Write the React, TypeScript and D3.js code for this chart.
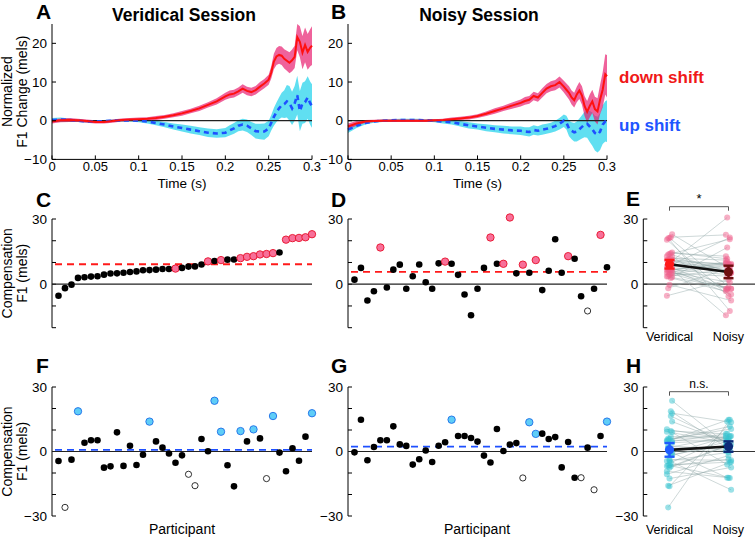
import React from "react";
import * as d3 from "d3";

const FONT = "'Liberation Sans', Arial, Helvetica, sans-serif";

// ---------- Time-course data (A, B) ----------
const time = [0, 0.01, 0.02, 0.03, 0.04, 0.05, 0.06, 0.07, 0.08, 0.09, 0.1, 0.11, 0.12, 0.13, 0.14, 0.15, 0.16, 0.17, 0.18, 0.19, 0.2,
  0.205, 0.21, 0.215, 0.22, 0.225, 0.23, 0.235, 0.24, 0.245, 0.25,
  0.253, 0.256, 0.259, 0.262, 0.265, 0.268, 0.271, 0.274, 0.277, 0.28, 0.283, 0.286, 0.289, 0.292, 0.295, 0.298, 0.3];

const verDownMean = [-0.2, 0.1, 0.2, 0.1, -0.1, -0.3, -0.3, -0.1, 0.2, 0.3, 0.4, 0.5, 0.7, 1.0, 1.4, 1.9, 2.5, 3.2, 4.1, 5.0, 6.3,
  6.8, 7.0, 7.6, 8.3, 7.7, 7.4, 7.9, 8.8, 9.6, 10.6,
  12.5, 15.3, 16.6, 17.0, 16.8, 16.0, 15.5, 15.0, 15.6, 16.5, 21.6, 20.4, 17.6, 19.6, 17.8, 18.9, 19.4];
const verDownErr = [0.5, 0.5, 0.5, 0.4, 0.4, 0.4, 0.4, 0.4, 0.4, 0.4, 0.4, 0.4, 0.5, 0.5, 0.5, 0.6, 0.6, 0.7, 0.7, 0.8, 0.9,
  1.0, 1.0, 1.0, 1.1, 1.1, 1.1, 1.1, 1.2, 1.2, 1.3,
  1.6, 2.0, 2.2, 2.3, 2.4, 2.5, 2.6, 2.7, 2.8, 2.9, 3.4, 4.0, 4.3, 4.5, 4.6, 4.8, 5.0];
const verUpMean = [0.2, 0.3, 0.2, 0.0, -0.2, -0.2, -0.1, 0.0, 0.1, 0.1, 0.0, -0.2, -0.6, -1.0, -1.5, -1.9, -2.3, -2.7, -3.1, -3.3, -3.1,
  -2.5, -2.0, -1.3, -1.0, -1.3, -2.0, -2.7, -2.8, -2.8, -2.0,
  -0.5, 1.0, 2.2, 3.2, 4.0, 4.3, 5.0, 4.5, 3.2, 4.5, 6.6, 2.5, 4.5, 4.8, 6.0, 4.5, 3.8];
const verUpErr = [0.5, 0.5, 0.4, 0.3, 0.3, 0.3, 0.3, 0.3, 0.3, 0.3, 0.4, 0.5, 0.6, 0.7, 0.8, 0.9, 1.0, 1.0, 1.1, 1.1, 1.2,
  1.3, 1.4, 1.4, 1.5, 1.6, 1.7, 1.9, 2.0, 2.1, 2.0,
  2.0, 2.3, 2.5, 2.8, 3.2, 3.6, 4.2, 4.5, 4.3, 4.5, 5.0, 5.2, 5.3, 5.4, 5.5, 5.6, 5.6];

const noiDownMean = [-1.5, -0.7, -0.2, -0.05, 0.0, 0.0, 0.0, 0.0, 0.0, 0.0, 0.1, 0.2, 0.4, 0.6, 0.8, 1.2, 1.8, 2.5, 3.2, 3.9, 4.6,
  5.1, 5.4, 6.4, 6.0, 7.2, 8.3, 8.9, 9.2, 10.0, 8.8,
  8.0, 7.2, 6.0, 5.3, 6.8, 7.8, 6.5, 3.8, 2.3, 3.8, 5.0, 3.0, 2.4, 5.5, 8.0, 12.0, 11.5];
const noiDownErr = [0.8, 0.6, 0.4, 0.3, 0.3, 0.3, 0.3, 0.3, 0.3, 0.3, 0.3, 0.3, 0.4, 0.4, 0.5, 0.5, 0.6, 0.7, 0.7, 0.8, 0.9,
  1.0, 1.0, 1.1, 1.1, 1.2, 1.2, 1.3, 1.3, 1.4, 1.5,
  1.6, 1.7, 1.8, 1.9, 2.0, 2.2, 2.4, 2.6, 2.8, 3.0, 3.0, 3.2, 3.4, 3.8, 4.5, 5.2, 5.5];
const noiUpMean = [-2.3, -1.3, -0.6, -0.2, 0.0, 0.1, 0.2, 0.2, 0.2, 0.1, 0.0, -0.2, -0.4, -0.8, -1.2, -1.5, -1.8, -2.1, -2.3, -2.5, -2.6,
  -2.8, -2.9, -2.4, -2.6, -2.3, -2.1, -1.8, -1.4, -0.8, 0.0,
  -0.5, -2.0, -2.6, -3.0, -2.8, -2.2, -1.6, -1.0, -0.8, -1.5, -2.2, -3.2, -3.6, -2.8, -1.0, -0.2, -0.1];
const noiUpErr = [0.9, 0.6, 0.4, 0.3, 0.3, 0.3, 0.3, 0.3, 0.3, 0.3, 0.4, 0.5, 0.6, 0.7, 0.8, 0.8, 0.9, 0.9, 1.0, 1.0, 1.1,
  1.1, 1.2, 1.2, 1.2, 1.3, 1.3, 1.3, 1.4, 1.5, 1.6,
  1.8, 2.0, 2.2, 2.4, 2.6, 2.8, 3.0, 3.3, 3.6, 4.0, 4.3, 4.5, 4.6, 4.8, 5.0, 5.2, 5.4];

const timeTicks = [0, 0.05, 0.1, 0.15, 0.2, 0.25, 0.3];
const normTicks = [-10, 0, 10, 20];

// ---------- Per-participant compensation (C, D, F, G) ----------
const compVerDown = [-5.3, -1.8, -0.2, 2.9, 3.2, 3.5, 3.7, 4.4, 4.9, 5.0, 5.3, 5.6, 5.9, 6.4, 6.5, 6.7, 7.0, 7.0, 7.2, 7.5,
  8.1, 8.2, 9.1, 10.5, 10.7, 11.1, 11.3, 11.4, 12.0, 12.6, 12.9, 13.7, 13.9, 14.3, 14.6, 20.5, 21.2, 21.3, 21.6, 23.0];
const compNoiDown = [2.1, 7.5, -7.5, -3.2, 16.9, -1.5, 6.7, 9.0, -2.1, 3.7, 9.1, 0.9, -2.1, 9.6, 10.4, 9.4, 4.3, -4.7, -14.3, -2.1,
  7.5, 21.5, 9.4, 9.4, 30.7, 5.0, 9.0, 5.3, 11.1, -2.7, 6.2, 20.7, 5.3, 12.9, 11.7, -5.5, -12.3, -2.1, 22.7, 7.8];
const compVerUp = [-4.4, -26.0, -3.8, 18.7, 4.1, 5.2, 5.2, -7.5, -6.9, 8.9, -6.7, 2.7, -6.3, -1.5, 13.9, 4.7, 1.8, -0.9, -5.2, -1.8,
  -10.6, -15.9, 5.8, 0.1, 23.6, 9.2, -6.4, -16.2, 9.5, 4.7, 10.3, 6.1, -12.6, 16.5, -0.5, -9.2, 1.5, -4.3, 6.9, 17.8];
const compNoiUp = [-0.4, 14.8, -4.1, 2.1, 5.2, 5.2, 11.7, 3.3, 2.6, -6.1, -3.6, 0.5, -4.9, 2.7, 4.3, 14.8, 7.2, 7.2, 6.3, 4.6,
  -1.9, -5.1, 10.5, 0.2, 3.2, 3.9, -12.3, 13.6, 8.2, 8.3, 5.8, 6.7, -7.4, 4.4, -12.2, -12.2, 1.8, -17.8, 7.2, 13.9];

// b = ordinary, s = individually significant, o = excluded (open)
const statusVerDown = "bbbbbbbbbbbbbbbbbbsbbbbsbsbbssssssbsssss";
const statusNoiDown = "bbbbsbbbbbbbbbsbbbbbbsbssbsbsbbbbsbbobsb";
const statusVerUp = "bobsbbbbbbbbbbsbbbbboobbssbbsbsbosbbbbbs";
const statusNoiUp = "bbbbbbbbbbbbbbbsbbbbbbbbbbossbbbbbbobobs";

const conditions = ["Veridical", "Noisy"];

// ---------- Components ----------
type TPProps = {
  x0: number; x1: number;
  down: number[]; downErr: number[]; up: number[]; upErr: number[];
};

const TY0 = 159.4, TY1 = 24;

function TimePanel({ x0, x1, down, downErr, up, upErr }: TPProps) {
  const x = d3.scaleLinear().domain([0, 0.3]).range([x0, x1]);
  const y = d3.scaleLinear().domain([-10, 25]).range([TY0, TY1]);
  const band = (m: number[], e: number[]) =>
    d3.area<number>()
      .x((_, i) => x(time[i]))
      .y0((_, i) => y(m[i] - e[i]))
      .y1((_, i) => y(m[i] + e[i]))(m) || "";
  const line = (m: number[]) =>
    d3.line<number>().x((_, i) => x(time[i])).y((d) => y(d))(m) || "";
  return (
    <g>
      <path d={band(up, upErr)} fill="#4fdcef" fillOpacity={0.9} />
      <path d={band(down, downErr)} fill="#e8186c" fillOpacity={0.68} />
      <line x1={x0} x2={x1} y1={y(0)} y2={y(0)} stroke="#222" strokeWidth={1.2} />
      <path d={line(up)} fill="none" stroke="#1e50ff" strokeWidth={2.6} strokeDasharray="5 4" />
      <path d={line(down)} fill="none" stroke="#ff1010" strokeWidth={2} />
      {/* axes */}
      <line x1={x0} x2={x0} y1={y(25)} y2={y(-10)} stroke="#000" strokeWidth={1} />
      <line x1={x0} x2={x1} y1={y(-10)} y2={y(-10)} stroke="#000" strokeWidth={1} />
      {normTicks.map((t) => (
        <g key={"y" + t}>
          <line x1={x0} x2={x0 + 4} y1={y(t)} y2={y(t)} stroke="#000" />
          <text x={x0 - 5} y={y(t)} dy="0.35em" textAnchor="end" fontSize={13.5}>
            {t < 0 ? "\u2212" + Math.abs(t) : t}
          </text>
        </g>
      ))}
      {timeTicks.map((t) => (
        <g key={"x" + t}>
          <line x1={x(t)} x2={x(t)} y1={y(-10)} y2={y(-10) - 4} stroke="#000" />
          <text x={x(t)} y={170.5} textAnchor="middle" fontSize={13}>{String(t)}</text>
        </g>
      ))}
      <text x={(x0 + x1) / 2} y={187.5} textAnchor="middle" fontSize={13.5}>Time (s)</text>
    </g>
  );
}

type SPProps = {
  x0: number; x1: number; yDomain: [number, number]; yRange: [number, number];
  values: number[]; status: string; sigFill: string; sigStroke: string; meanColor: string;
  ticks: number[]; labelTicks: number[];
};

function ScatterPanel({ x0, x1, yDomain, yRange, values, status, sigFill, sigStroke, meanColor, ticks, labelTicks }: SPProps) {
  const x = d3.scaleLinear().domain([0, values.length]).range([x0, x1]);
  const y = d3.scaleLinear().domain(yDomain).range(yRange);
  const m = d3.mean(values) as number;
  return (
    <g>
      <line x1={x0} x2={x0} y1={yRange[1]} y2={yRange[0]} stroke="#000" />
      {ticks.map((t) => (
        <line key={"t" + t} x1={x0} x2={x0 + 4} y1={y(t)} y2={y(t)} stroke="#000" />
      ))}
      {labelTicks.map((t) => (
        <text key={"l" + t} x={x0 - 5} y={y(t)} dy="0.35em" textAnchor="end" fontSize={13.5}>
          {t < 0 ? "\u2212" + Math.abs(t) : t}
        </text>
      ))}
      <line x1={x0} x2={x1} y1={y(0)} y2={y(0)} stroke="#222" strokeWidth={1.2} />
      <line x1={x0 + 3} x2={x1} y1={y(m)} y2={y(m)} stroke={meanColor} strokeWidth={1.8} strokeDasharray="7 5" />
      {values.map((v, i) => {
        const s = status[i];
        const cx = x(i + 1), cy = y(v);
        if (s === "s") return <circle key={i} cx={cx} cy={cy} r={3.7} fill={sigFill} stroke={sigStroke} strokeWidth={0.9} />;
        if (s === "o") return <circle key={i} cx={cx} cy={cy} r={3.1} fill="#fff" stroke="#000" strokeWidth={0.8} />;
        return <circle key={i} cx={cx} cy={cy} r={3.3} fill="#000" />;
      })}
    </g>
  );
}

type PPProps = {
  ax: number; xEnd: number; yDomain: [number, number]; yRange: [number, number];
  a: number[]; b: number[]; ptColor: string; meanA: string; meanB: string;
  ticks: number[]; labelTicks: number[]; bracketY: number; sigText: string; labelY: number;
};

function PairPanel({ ax, xEnd, yDomain, yRange, a, b, ptColor, meanA, meanB, ticks, labelTicks, bracketY, sigText, labelY }: PPProps) {
  const xc = d3.scalePoint<string>().domain(conditions).range([669.5, 728.5]);
  const y = d3.scaleLinear().domain(yDomain).range(yRange);
  const xa = xc("Veridical") as number, xb = xc("Noisy") as number;
  const jit = (i: number) => ((i % 5) - 2) * 1.3;
  const stats = (v: number[]) => {
    const m = d3.mean(v) as number;
    const ci = 1.96 * (d3.deviation(v) as number) / Math.sqrt(v.length);
    return { m, lo: m - ci, hi: m + ci };
  };
  const sa = stats(a), sb = stats(b);
  return (
    <g>
      <line x1={ax} x2={ax} y1={yRange[1]} y2={yRange[0]} stroke="#000" />
      {ticks.map((t) => (
        <line key={"t" + t} x1={ax} x2={ax + 4} y1={y(t)} y2={y(t)} stroke="#000" />
      ))}
      {labelTicks.map((t) => (
        <text key={"l" + t} x={ax - 5} y={y(t)} dy="0.35em" textAnchor="end" fontSize={13.5}>
          {t < 0 ? "\u2212" + Math.abs(t) : t}
        </text>
      ))}
      <line x1={ax} x2={xEnd} y1={y(0)} y2={y(0)} stroke="#333" strokeWidth={1.2} />
      {a.map((v, i) => (
        <line key={"c" + i} x1={xa + jit(i)} x2={xb + jit(i + 2)} y1={y(v)} y2={y(b[i])} stroke="#8fa6a6" strokeOpacity={0.55} strokeWidth={0.8} />
      ))}
      {a.map((v, i) => (
        <circle key={"a" + i} cx={xa + jit(i)} cy={y(v)} r={3} fill={ptColor} fillOpacity={0.5} />
      ))}
      {b.map((v, i) => (
        <circle key={"b" + i} cx={xb + jit(i + 2)} cy={y(v)} r={3} fill={ptColor} fillOpacity={0.5} />
      ))}
      <line x1={xa} x2={xb} y1={y(sa.m)} y2={y(sb.m)} stroke="#111" strokeWidth={2.6} />
      {[{ s: sa, x: xa, c: meanA }, { s: sb, x: xb, c: meanB }].map((d, k) => (
        <g key={"m" + k} stroke={d.c} strokeWidth={2.4}>
          <line x1={d.x} x2={d.x} y1={y(d.s.lo)} y2={y(d.s.hi)} />
          <line x1={d.x - 5} x2={d.x + 5} y1={y(d.s.lo)} y2={y(d.s.lo)} />
          <line x1={d.x - 5} x2={d.x + 5} y1={y(d.s.hi)} y2={y(d.s.hi)} />
          <circle cx={d.x} cy={y(d.s.m)} r={4.6} fill={d.c} stroke="none" />
        </g>
      ))}
      <path d={`M${xa},${bracketY + 4}V${bracketY}H${xb}V${bracketY + 4}`} fill="none" stroke="#555" strokeWidth={1} />
      <text x={(xa + xb) / 2} y={bracketY - 4} textAnchor="middle" fontSize={sigText === "*" ? 13 : 12}>{sigText}</text>
      {conditions.map((c) => (
        <text key={c} x={xc(c) as number} y={labelY} textAnchor="middle" fontSize={12.5}>{c}</text>
      ))}
    </g>
  );
}

function YLabel({ cy, lines }: { cy: number; lines: string[] }) {
  return (
    <g>
      {lines.map((l, i) => (
        <text key={i} transform={`translate(${12 + i * 15},${cy}) rotate(-90)`} textAnchor="middle" fontSize={14}>{l}</text>
      ))}
    </g>
  );
}

function Letter({ x, y, t }: { x: number; y: number; t: string }) {
  return <text x={x} y={y} fontSize={21} fontWeight="bold">{t}</text>;
}

export default function App() {
  const cDom: [number, number] = [-20, 30];
  const cRange: [number, number] = [327.7, 219];
  const fDom: [number, number] = [-30, 30];
  const fRange: [number, number] = [516, 387];
  const cTicks = [-20, -10, 0, 10, 20, 30];
  const fTicks = [-30, -20, -10, 0, 10, 20, 30];
  return (
    <svg width={756} height={538} style={{ position: "absolute", left: 0, top: 0, background: "#fff" }} fontFamily={FONT}>
      <rect width={756} height={538} fill="#fff" />
      {/* Titles & letters */}
      <text x={184} y={21} textAnchor="middle" fontSize={17.5} fontWeight="bold">Veridical Session</text>
      <text x={479} y={21} textAnchor="middle" fontSize={17.5} fontWeight="bold">Noisy Session</text>
      <Letter x={36} y={19} t="A" />
      <Letter x={331} y={19} t="B" />
      <Letter x={36} y={207} t="C" />
      <Letter x={331} y={207} t="D" />
      <Letter x={626} y={206} t="E" />
      <Letter x={36} y={373} t="F" />
      <Letter x={331} y={373} t="G" />
      <Letter x={626} y={373} t="H" />

      <TimePanel x0={52} x1={312} down={verDownMean} downErr={verDownErr} up={verUpMean} upErr={verUpErr} />
      <TimePanel x0={348} x1={607} down={noiDownMean} downErr={noiDownErr} up={noiUpMean} upErr={noiUpErr} />
      <text x={619} y={83} fontSize={17} fontWeight="bold" fill="#f01818">down shift</text>
      <text x={619} y={131} fontSize={17} fontWeight="bold" fill="#1e55ff">up shift</text>
      <YLabel cy={91.7} lines={["Normalized", "F1 Change (mels)"]} />

      <ScatterPanel x0={52} x1={312} yDomain={cDom} yRange={cRange} values={compVerDown} status={statusVerDown}
        sigFill="#f77099" sigStroke="#e8102a" meanColor="#ff1a1a" ticks={cTicks} labelTicks={[0, 30]} />
      <ScatterPanel x0={348} x1={607} yDomain={cDom} yRange={cRange} values={compNoiDown} status={statusNoiDown}
        sigFill="#f77099" sigStroke="#e8102a" meanColor="#ff1a1a" ticks={cTicks} labelTicks={[0, 30]} />
      <YLabel cy={273.3} lines={["Compensation", "F1 (mels)"]} />
      <PairPanel ax={643.3} xEnd={755} yDomain={cDom} yRange={cRange} a={compVerDown} b={compNoiDown}
        ptColor="#ef5f8c" meanA="#ff1a1a" meanB="#6e0e10" ticks={cTicks} labelTicks={[0, 30]}
        bracketY={206.7} sigText="*" labelY={341} />

      <ScatterPanel x0={52} x1={312} yDomain={fDom} yRange={fRange} values={compVerUp} status={statusVerUp}
        sigFill="#5fcdf7" sigStroke="#1c6ee8" meanColor="#1e50ff" ticks={fTicks} labelTicks={[-30, 0, 30]} />
      <ScatterPanel x0={348} x1={607} yDomain={fDom} yRange={fRange} values={compNoiUp} status={statusNoiUp}
        sigFill="#5fcdf7" sigStroke="#1c6ee8" meanColor="#1e50ff" ticks={fTicks} labelTicks={[-30, 0, 30]} />
      <YLabel cy={451.5} lines={["Compensation", "F1 (mels)"]} />
      <PairPanel ax={643.3} xEnd={755} yDomain={fDom} yRange={fRange} a={compVerUp} b={compNoiUp}
        ptColor="#38c4d0" meanA="#1e5cff" meanB="#0c2a78" ticks={fTicks} labelTicks={[-30, 0, 30]}
        bracketY={391.7} sigText="n.s." labelY={534} />

      <text x={182} y={534} textAnchor="middle" fontSize={14}>Participant</text>
      <text x={477} y={534} textAnchor="middle" fontSize={14}>Participant</text>
    </svg>
  );
}
